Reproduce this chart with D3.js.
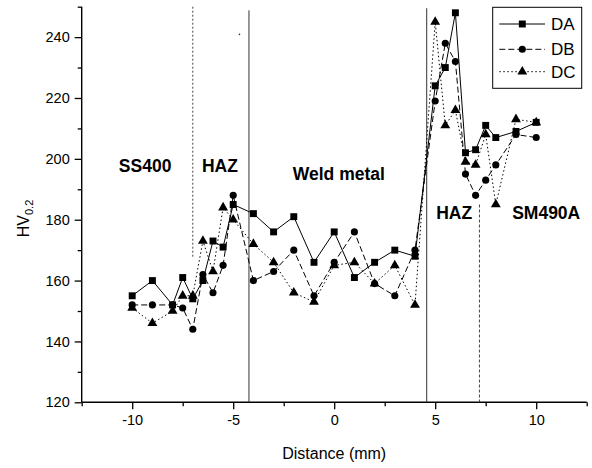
<!DOCTYPE html>
<html><head><meta charset="utf-8">
<script src="https://cdn.jsdelivr.net/npm/d3@7"></script>
<style>body{margin:0;background:#fff}svg{display:block}text{font-family:"Liberation Sans",Arial,sans-serif;fill:#000}</style>
</head><body><svg id="c" width="592" height="468"></svg>
<script>
const distance = [-10,-9,-8,-7.5,-7,-6.5,-6,-5.5,-5,-4,-3,-2,-1,0,1,2,3,4,5,5.5,6,6.5,7,7.5,8,9,10];
const DA = [155,160,152,161,154,160,173,171,185,182,176,181,166,176,161,166,170,168,224,230,248,202,203,211,207,209,212];
const DB = [152,152,152,151,144,162,156,165,188,160,163,170,155,166,176,159,155,170,219,238,232,195,188,193,198,208,207];
const DC = [151,146,150,155,155,173,163,184,180,172,166,156,153,165,166,159,165,152,245,211,216,199,198,208,185,213,212];
const seriesNames = ["DA","DB","DC"];
const xTicks = [-10,-5,0,5,10];
const yTicks = [120,140,160,180,200,220,240];
const zoneLabels = [
  {text:"SS400", x:-10.66, y:195.8},
  {text:"HAZ", x:-6.55, y:195.8},
  {text:"Weld metal", x:-2.05, y:193.2},
  {text:"HAZ", x:5.05, y:180.1},
  {text:"SM490A", x:8.81, y:180.1}
];
const boundaries = [
  {x:-7, y0:167.5, y1:250, style:"dot"},
  {x:-4.22, y0:120, y1:248.8, style:"solid"},
  {x:4.58, y0:120, y1:249.5, style:"solid"},
  {x:7.19, y0:120, y1:185, style:"dash"}
];

const svg = d3.select("#c");
const L=81.7, R=586.7, T=6.7, B=402.3;
const x = d3.scaleLinear().domain([-12.5,12.5]).range([L,R]);
const y = d3.scaleLinear().domain([120,250]).range([B,T]);

// axes
const xAxis = d3.axisBottom(x).tickValues(xTicks).tickSize(7).tickPadding(5).tickFormat(d=>String(d));
const gx = svg.append("g").attr("transform",`translate(0,${B})`).call(xAxis);
gx.selectAll(".tick line").attr("stroke","#000").attr("stroke-width",1.3);
const xMinor = d3.axisBottom(x).tickValues([-12.5,-7.5,-2.5,2.5,7.5,12.5]).tickSize(4).tickFormat("");
const gxm = svg.append("g").attr("transform",`translate(0,${B})`).call(xMinor);
gxm.select(".domain").remove();
gxm.selectAll(".tick line").attr("stroke","#000").attr("stroke-width",1.3);
gx.select(".domain").attr("d",`M${L},0H${R}`).attr("stroke","#000").attr("stroke-width",1.4);

const yAxis = d3.axisLeft(y).tickValues(yTicks).tickSize(7).tickPadding(5);
const gy = svg.append("g").attr("transform",`translate(${L},0)`).call(yAxis);
gy.selectAll(".tick line").attr("stroke","#000").attr("stroke-width",1.3);
gy.select(".domain").attr("d",`M0,${T}V${B}`).attr("stroke","#000").attr("stroke-width",1.4);
const yMinor = d3.axisLeft(y).tickValues([130,150,170,190,210,230,250]).tickSize(4).tickFormat("");
const gym = svg.append("g").attr("transform",`translate(${L},0)`).call(yMinor);
gym.select(".domain").remove();
gym.selectAll(".tick line").attr("stroke","#000").attr("stroke-width",1.3);
svg.selectAll(".tick text").style("font-family","'Liberation Sans',Arial,sans-serif").style("font-size","14.5px").attr("fill","#000");

// axis titles
svg.append("text").attr("x",(L+R)/2).attr("y",459).attr("text-anchor","middle").style("font-size","16px").text("Distance (mm)");
const yl = svg.append("text").attr("transform",`translate(29,${(T+B)/2+14}) rotate(-90)`).attr("text-anchor","middle").style("font-size","16px");
yl.append("tspan").text("HV");
yl.append("tspan").attr("dy",4).style("font-size","11px").text("0.2");

// boundary lines
const dashes = {dot:"2,2", solid:null, dash:"3,2"};
svg.append("g").selectAll("line").data(boundaries).join("line")
  .attr("x1",d=>x(d.x)).attr("x2",d=>x(d.x)).attr("y1",d=>y(d.y1)).attr("y2",d=>y(d.y0))
  .attr("stroke",d=>d.style==="solid"?"#333":"#444").attr("stroke-width",1)
  .attr("stroke-dasharray",d=>dashes[d.style]);
svg.append("circle").attr("cx",x(-4.69)).attr("cy",y(240.9)).attr("r",0.8).attr("fill","#333");

// zone labels
svg.append("g").selectAll("text").data(zoneLabels).join("text")
  .attr("x",d=>x(d.x)).attr("y",d=>y(d.y)).style("font-size","17.5px").style("font-weight","bold").text(d=>d.text);

// series
const data = [DA,DB,DC];
const lineDash = [null,"6,3","1.5,2.5"];
const sym = [d3.symbolSquare, d3.symbolCircle, d3.symbolTriangle];
const symSize = [48, 40, 42];
const line = d3.line().x((d,i)=>x(distance[i])).y(d=>y(d));
data.forEach((vals,k)=>{
  svg.append("path").attr("d",line(vals)).attr("fill","none").attr("stroke","#000").attr("stroke-width",1).attr("stroke-dasharray",lineDash[k]);
  svg.append("g").selectAll("path").data(vals).join("path")
    .attr("transform",(d,i)=>`translate(${x(distance[i])},${y(d)})`)
    .attr("d",d3.symbol().type(sym[k]).size(symSize[k])).attr("fill","#000");
});

// legend
const lg = svg.append("g");
lg.append("rect").attr("x",492.7).attr("y",7.3).attr("width",89).attr("height",81).attr("fill","#fff").attr("stroke","#000").attr("stroke-width",1);
const rowsY = [24,49.3,71.7];
seriesNames.forEach((n,k)=>{
  lg.append("line").attr("x1",499.3).attr("x2",545).attr("y1",rowsY[k]).attr("y2",rowsY[k]).attr("stroke","#000").attr("stroke-width",1).attr("stroke-dasharray",lineDash[k]);
  lg.append("path").attr("transform",`translate(522.3,${rowsY[k]})`).attr("d",d3.symbol().type(sym[k]).size(symSize[k])).attr("fill","#000");
  lg.append("text").attr("x",551).attr("y",rowsY[k]+6).style("font-size","17px").text(n);
});
</script></body></html>
